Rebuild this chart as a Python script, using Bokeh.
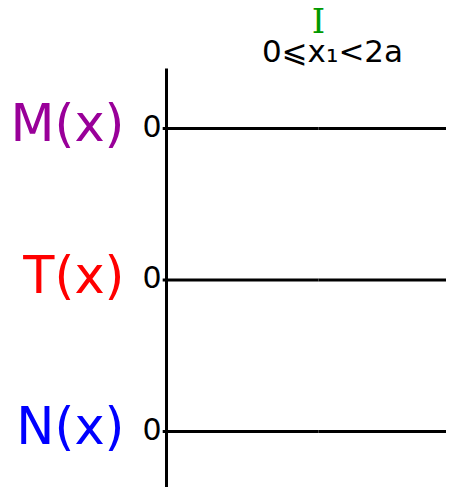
from bokeh.plotting import figure
from bokeh.models import Range1d, ColumnDataSource
from bokeh.core.properties import value
from bokeh.embed import file_html
from bokeh.resources import INLINE

# ---- data ----
rows = ["M(x)", "T(x)", "N(x)"]
row_colors = ["#990099", "#ff0000", "#0000ff"]
row_pos = [2, 1, 0]
row_values = [0, 0, 0]
tick_labels = ["0", "0", "0"]
a = 1.0
region_names = ["I"]
region_starts = [0.0]
region_ends = [2 * a]
region_texts = ["0\u2a7dx\u2081<2a"]

# ---- layout ----
W, H = 446, 487
px_x = 152.0      # pixels per unit x
px_y = 151.5      # pixels per unit y
left_px = 166     # x=0 position from left
bottom_px = H - 431  # y=0 position from bottom

x0 = -left_px / px_x
x1 = x0 + W / px_x
y0 = -bottom_px / px_y
y1 = y0 + H / px_y
axis_top = y0 + (H - 68) / px_y

p = figure(width=W, height=H, x_range=Range1d(x0, x1), y_range=Range1d(y0, y1),
           tools="", toolbar_location=None, output_backend="svg", min_border=0)
p.axis.visible = False
p.grid.visible = False
p.outline_line_color = None
p.background_fill_color = "white"
p.border_fill_color = "white"

# vertical axis
p.segment(x0=[0], y0=[y0 - 0.1], x1=[0], y1=[axis_top], line_color="black", line_width=3)

# horizontal zero lines, split at the region middle
mid = (region_starts[0] + region_ends[0]) / 2
for yv, v in zip(row_pos, row_values):
    p.segment(x0=[-0.025, mid], y0=[yv + v, yv + v], x1=[mid, x1 + 0.1], y1=[yv + v, yv + v],
              line_color="black", line_width=3)

# tick labels "0"
p.text(x=[0] * len(rows), y=row_pos, text=tick_labels, text_align="right",
       text_baseline="alphabetic", x_offset=-5, y_offset=-3,
       text_font=value("DejaVu Sans"), text_font_size="30px", text_color="black")

# row labels
src = ColumnDataSource(dict(x=[0] * len(rows), y=row_pos, t=rows, c=row_colors))
p.text(x="x", y="y", text="t", text_color="c", source=src, text_align="right",
       text_baseline="alphabetic", x_offset=-42, y_offset=-5,
       text_font=value("DejaVu Sans"), text_font_size="51px")

# region label
rc = [(s + e) / 2 for s, e in zip(region_starts, region_ends)]
p.text(x=rc, y=[y0 + (H - 33) / px_y] * len(rc), text=region_names, text_align="center",
       text_baseline="alphabetic", y_offset=-13, text_font=value("DejaVu Serif"),
       text_font_size="34px", text_color="#009900")
p.text(x=rc, y=[y0 + (H - 62) / px_y] * len(rc), text=region_texts, text_align="center",
       text_baseline="alphabetic", x_offset=14, y_offset=-12, text_font=value("DejaVu Sans"),
       text_font_size="31px", text_color="black")

open("out.html", "w").write(file_html(p, INLINE))
